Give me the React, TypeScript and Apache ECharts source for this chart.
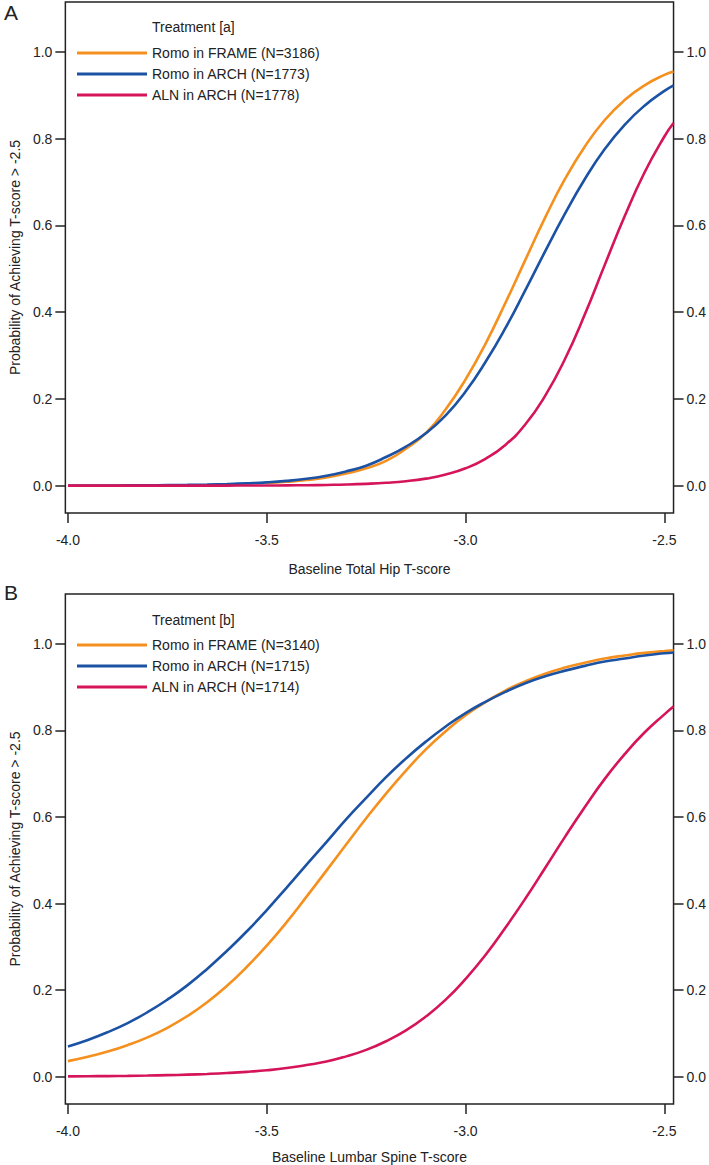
import React, { useEffect, useRef } from "react";
import * as echarts from "echarts";

// x grid of the curves (baseline T-score)
const X = [
  -4.0, -3.95, -3.9, -3.85, -3.8, -3.75, -3.7, -3.65, -3.6, -3.55, -3.5, -3.45, -3.4, -3.35, -3.3,
  -3.25, -3.2, -3.15, -3.1, -3.05, -3.0, -2.95, -2.9, -2.85, -2.8, -2.75, -2.7, -2.65, -2.6, -2.55,
  -2.5, -2.477,
];

// Panel A: Total hip
const hipRomoFrame = [
  null, null, null, null, null, null, null, null, null, null, 0.006, 0.009, 0.013, 0.019, 0.028,
  0.04, 0.057, 0.085, 0.121, 0.176, 0.245, 0.327, 0.421, 0.52, 0.618, 0.707, 0.782, 0.843, 0.889, 0.923,
  0.947, 0.955,
];
const hipRomoArch = [
  0.0002, 0.0003, 0.0004, 0.0006, 0.0009, 0.0013, 0.0018, 0.0026, 0.0037, 0.0053, 0.0075, 0.011, 0.016,
  0.023, 0.033, 0.046, 0.066, 0.09, 0.121, 0.162, 0.217, 0.285, 0.363, 0.45, 0.54, 0.627, 0.707, 0.776,
  0.832, 0.876, 0.91, 0.923,
];
const hipAlnArch = [
  0.0, 0.0, 0.0, 0.0, 0.0, 0.0, 0.0001, 0.0001, 0.0002, 0.0003, 0.0004, 0.0007, 0.001, 0.0017, 0.0026,
  0.0042, 0.0066, 0.0103, 0.0163, 0.0256, 0.04, 0.062, 0.094, 0.141, 0.207, 0.292, 0.395, 0.509, 0.621,
  0.722, 0.805, 0.836,
];

// Panel B: Lumbar spine
const spineRomoFrame = [
  0.036, 0.046, 0.058, 0.073, 0.091, 0.113, 0.14, 0.172, 0.21, 0.254, 0.303, 0.357, 0.416, 0.476, 0.537,
  0.597, 0.654, 0.707, 0.756, 0.798, 0.835, 0.865, 0.892, 0.913, 0.931, 0.945, 0.956, 0.966, 0.973, 0.979,
  0.983, 0.985,
];
const spineRomoArch = [
  0.07, 0.085, 0.103, 0.124, 0.149, 0.178, 0.211, 0.249, 0.291, 0.336, 0.385, 0.437, 0.49, 0.542, 0.595,
  0.644, 0.692, 0.735, 0.774, 0.809, 0.84, 0.866, 0.889, 0.909, 0.925, 0.938, 0.949, 0.959, 0.966, 0.973,
  0.978, 0.98,
];
const spineAlnArch = [
  0.0008, 0.0011, 0.0015, 0.002, 0.0027, 0.0036, 0.0048, 0.0064, 0.0085, 0.0113, 0.015, 0.02, 0.027,
  0.035, 0.047, 0.062, 0.082, 0.107, 0.139, 0.178, 0.226, 0.281, 0.344, 0.411, 0.482, 0.554, 0.623, 0.688,
  0.745, 0.795, 0.837, 0.855,
];

const namesA = ["Romo in FRAME (N=3186)", "Romo in ARCH (N=1773)", "ALN in ARCH (N=1778)"];
const namesB = ["Romo in FRAME (N=3140)", "Romo in ARCH (N=1715)", "ALN in ARCH (N=1714)"];
const xTicks = [-4.0, -3.5, -3.0, -2.5];
const yTicks = [0, 0.2, 0.4, 0.6, 0.8, 1.0];
const xTitles = ["Baseline Total Hip T-score", "Baseline Lumbar Spine T-score"];
const yTitle = "Probability of Achieving T-score > -2.5";
const legendTitles = ["Treatment [a]", "Treatment [b]"];
const panelLetters = ["A", "B"];

const COLORS = ["#F5901E", "#1B52A4", "#D5145A"];
const FONT = "'Liberation Sans', Arial, Helvetica, sans-serif";
const INK = "#222";

const X_MIN = -4.0066;
const X_MAX = -2.477;
const Y_MIN = -0.063;
const Y_MAX = 1.115;

function pairs(ys: (number | null)[]) {
  return X.map((x, i) => [x, ys[i]]);
}

export default function App() {
  const ref = useRef<HTMLDivElement>(null);
  useEffect(() => {
    if (!ref.current) return;
    const chart = echarts.init(ref.current, undefined, { renderer: "svg" });
    const fmt = (v: number) => v.toFixed(1);
    const grids = [
      { left: 52, right: 33, top: 2, height: 511 },
      { left: 52, right: 33, top: 594, height: 511 },
    ];
    const xAxes = [0, 1].map((g) => ({
      type: "value",
      gridIndex: g,
      min: X_MIN,
      max: X_MAX,
      position: "bottom",
      name: xTitles[g],
      nameLocation: "middle",
      nameGap: g === 0 ? 49 : 46,
      nameTextStyle: { fontFamily: FONT, fontSize: 14, color: INK },
      axisLine: { show: false, onZero: false },
      axisTick: { show: true, length: 10, customValues: xTicks, lineStyle: { color: INK, width: 1.5 } },
      axisLabel: { customValues: xTicks, formatter: fmt, margin: 20, fontFamily: FONT, fontSize: 14, color: INK },
      splitLine: { show: false },
    }));
    const yAxes: any[] = [];
    [0, 1].forEach((g) => {
      yAxes.push({
        type: "value",
        gridIndex: g,
        min: Y_MIN,
        max: Y_MAX,
        position: "left",
        name: yTitle,
        nameLocation: "middle",
        nameGap: 37,
        nameTextStyle: { fontFamily: FONT, fontSize: 14, color: INK },
        axisLine: { show: false, onZero: false },
        axisTick: { show: true, length: 10, customValues: yTicks, lineStyle: { color: INK, width: 1.5 } },
        axisLabel: { customValues: yTicks, formatter: fmt, margin: 13, fontFamily: FONT, fontSize: 14, color: INK },
        splitLine: { show: false },
      });
      yAxes.push({
        type: "value",
        gridIndex: g,
        min: Y_MIN,
        max: Y_MAX,
        position: "right",
        axisLine: { show: false, onZero: false },
        axisTick: { show: true, length: 10, customValues: yTicks, lineStyle: { color: INK, width: 1.5 } },
        axisLabel: { customValues: yTicks, formatter: fmt, margin: 13, fontFamily: FONT, fontSize: 14, color: INK },
        splitLine: { show: false },
      });
    });
    const seriesData = [
      [hipRomoFrame, hipRomoArch, hipAlnArch],
      [spineRomoFrame, spineRomoArch, spineAlnArch],
    ];
    const names = [namesA, namesB];
    const series: any[] = [];
    [0, 1].forEach((g) => {
      seriesData[g].forEach((ys, k) => {
        series.push({
          type: "line",
          name: names[g][k],
          xAxisIndex: g,
          yAxisIndex: g * 2,
          data: pairs(ys),
          smooth: true,
          showSymbol: false,
          symbol: "none",
          color: COLORS[k],
          lineStyle: { width: 2.6, color: COLORS[k] },
          z: 3 + k,
        });
      });
    });
    const legendTops = [45, 637];
    chart.setOption({
      animation: false,
      backgroundColor: "#fff",
      grid: grids.map((g) => ({ ...g, show: true, borderColor: INK, borderWidth: 1.5, backgroundColor: "transparent" })),
      xAxis: xAxes,
      yAxis: yAxes,
      legend: [0, 1].map((g) => ({
        data: names[g],
        orient: "vertical",
        left: 77,
        top: legendTops[g],
        padding: 0,
        icon: "rect",
        itemWidth: 70,
        itemHeight: 3,
        itemGap: 5,
        selectedMode: false,
        textStyle: { fontFamily: FONT, fontSize: 14, color: INK, lineHeight: 16 },
      })),
      graphic: [
        ...[0, 1].map((g) => ({
          type: "text",
          left: 152,
          top: g === 0 ? 20 : 613,
          style: { text: legendTitles[g], font: `14px ${FONT}`, fill: INK },
        })),
        ...[0, 1].map((g) => ({
          type: "text",
          left: 4,
          top: g === 0 ? 2 : 582,
          style: { text: panelLetters[g], font: `21px ${FONT}`, fill: INK },
        })),
      ],
      series,
    });
    return () => chart.dispose();
  }, []);
  return (
    <div
      ref={ref}
      style={{ position: "absolute", left: 0, top: 0, width: 709, height: 1165, background: "#fff" }}
    />
  );
}
